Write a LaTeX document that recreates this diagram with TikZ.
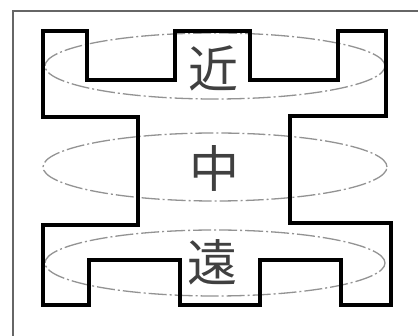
\documentclass[tikz,border=0pt]{standalone}
\usepackage{fontspec}
\usetikzlibrary{shapes.geometric}
\newfontfamily\cjk{Noto Sans CJK JP}
\begin{document}
\begin{tikzpicture}[x=1pt,y=-1pt,
  frameline/.style={draw=gray!80!black,line width=1.6pt},
  ring/.style={draw=gray!85,line width=1.3pt,dash pattern=on 18pt off 3pt on 2pt off 3pt},
  outline/.style={draw=black,line width=3.6pt,line join=miter},
  kanji/.style={text=black!75,font=\cjk\fontsize{50}{50}\selectfont,inner sep=0pt}]
\useasboundingbox[fill=white] (0,0) rectangle (418,336);
\coordinate (fa) at (13,336);
\coordinate (fb) at (13,11);
\coordinate (fc) at (418,11);
\draw[frameline] (fa) -- (fb) -- (fc);
% rings
\node[ring,ellipse,minimum width=340pt,minimum height=66pt,inner sep=0pt] (e1) at (215,66) {};
\node[ring,ellipse,minimum width=344pt,minimum height=68pt,inner sep=0pt] (e2) at (215,167) {};
\node[ring,ellipse,minimum width=340pt,minimum height=66pt,inner sep=0pt] (e3) at (215,263) {};
% outline
\draw[outline] (43,31) -- (87,31) -- (87,80) -- (175,80) -- (175,31) -- (250,31) -- (250,80) -- (338,80) -- (338,31) -- (386,31) -- (386,116) -- (290,116) -- (290,223) -- (391,223) -- (391,305) -- (341,305) -- (341,260) -- (260,260) -- (260,305) -- (180,305) -- (180,260) -- (89,260) -- (89,305) -- (43,305) -- (43,225) -- (138,225) -- (138,117) -- (43,117) -- cycle;
% labels
\node[kanji] (t1) at (213,68) {近};
\node[kanji] (t2) at (214,168) {中};
\node[kanji] (t3) at (212,262) {遠};
\end{tikzpicture}
\end{document}
